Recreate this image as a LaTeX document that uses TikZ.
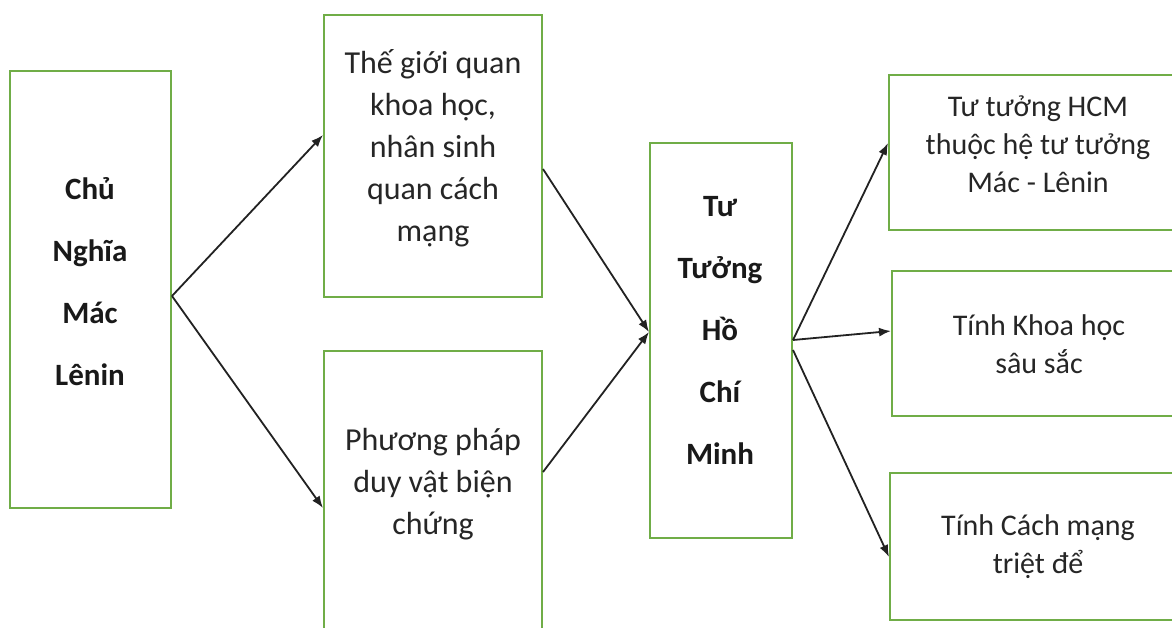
\documentclass[tikz,border=0pt]{standalone}
\usepackage{fontspec}
\setmainfont{Carlito}
\usetikzlibrary{arrows.meta}
\definecolor{boxgreen}{RGB}{112,173,71}
\definecolor{arrowgray}{RGB}{34,34,34}
\tikzset{
  box/.style={draw=boxgreen, line width=2pt, inner sep=0pt},
  arr/.style={draw=arrowgray, line width=1.8pt, -{Latex[length=12pt,width=9pt]}},
  txt/.style={align=center, text=black!85, font=\fontsize{32}{42}\selectfont},
  rtxt/.style={align=center, text=black!85, font=\fontsize{30}{38}\selectfont},
  btxt/.style={align=center, text=black!90, font=\bfseries\fontsize{31}{62}\selectfont},
}
\begin{document}
\begin{tikzpicture}[x=1pt,y=-1pt]
                %frame of the picture, boxes on the right and below run out of it
                \clip (0,0) rectangle (1172,628);
                \fill[white] (0,0) rectangle (1172,628);
                %the boxes
                \node[box, minimum width=161pt, minimum height=437pt] (mln) at (90.5,289.5) {};
                \node[box, minimum width=218pt, minimum height=282pt] (tgq) at (433,156) {};
                \node[box, minimum width=218pt, minimum height=349pt] (ppbc) at (433,525.5) {};
                \node[box, minimum width=142pt, minimum height=395pt] (tthcm) at (721,340.5) {};
                \node[box, minimum width=298pt, minimum height=155pt] (htt) at (1038,152.5) {};
                \node[box, minimum width=295pt, minimum height=145pt] (tkh) at (1039.5,343.5) {};
                \node[box, minimum width=297pt, minimum height=147pt] (tcm) at (1038.5,546.5) {};
                %the texts
                \node[btxt] (mlnT) at (90,281.5) {Chủ\\Nghĩa\\Mác\\Lênin};
                \node[txt] (tgqT) at (433,148) {Thế giới quan\\khoa học,\\nhân sinh\\quan cách\\mạng};
                \node[txt] (ppbcT) at (433,484) {Phương pháp\\duy vật biện\\chứng};
                \node[btxt] (tthcmT) at (720,330) {Tư\\Tưởng\\Hồ\\Chí\\Minh};
                \node[rtxt] (httT) at (1038,144) {Tư tưởng HCM\\thuộc hệ tư tưởng\\Mác - Lênin};
                \node[rtxt] (tkhT) at (1039,344) {Tính Khoa học\\sâu sắc};
                \node[rtxt] (tcmT) at (1038,546.5) {Tính Cách mạng\\triệt để};
                %the arrows
                \draw[arr] (mln.east |- 0,296) -- (tgq.west |- 0,135);
                \draw[arr] (mln.east |- 0,296) -- (ppbc.west |- 0,508);
                \draw[arr] (tgq.east |- 0,169) -- (tthcm.west |- 0,332);
                \draw[arr] (ppbc.east |- 0,472) -- (tthcm.west |- 0,332);
                \draw[arr] (tthcm.east |- 0,340) -- (htt.west |- 0,143);
                \draw[arr] (tthcm.east |- 0,340) -- (tkh.west |- 0,331);
                \draw[arr] (tthcm.east |- 0,350) -- (tcm.west |- 0,557);
\end{tikzpicture}
\end{document}
